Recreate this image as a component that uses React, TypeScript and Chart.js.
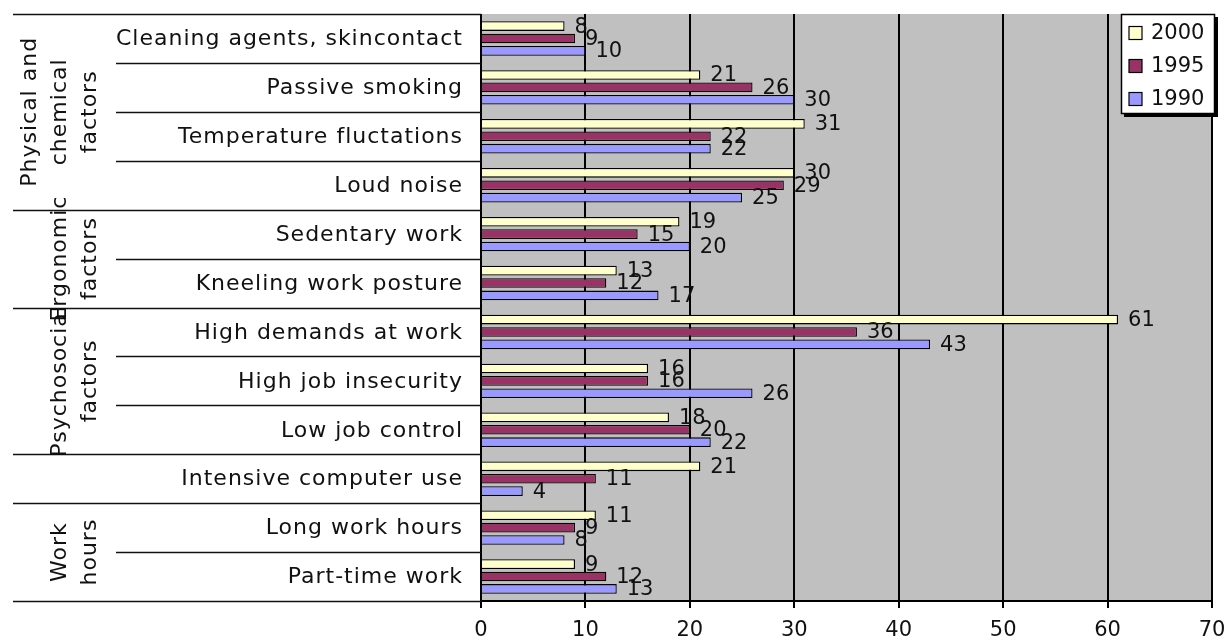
import React, { useEffect, useRef } from 'react';
import { Chart, registerables } from 'chart.js';

Chart.register(...registerables);

// Risk factors at work, share of employees (%)
const categories = [
  'Cleaning agents, skincontact',
  'Passive smoking',
  'Temperature fluctations',
  'Loud noise',
  'Sedentary work',
  'Kneeling work posture',
  'High demands at work',
  'High job insecurity',
  'Low job control',
  'Intensive computer use',
  'Long work hours',
  'Part-time work',
];

const values2000 = [8, 21, 31, 30, 19, 13, 61, 16, 18, 21, 11, 9];
const values1995 = [9, 26, 22, 29, 15, 12, 36, 16, 20, 11, 9, 12];
const values1990 = [10, 30, 22, 25, 20, 17, 43, 26, 22, 4, 8, 13];

const seriesLabels = ['2000', '1995', '1990'];
const seriesColors = ['#ffffcc', '#993366', '#9999ff'];

const xMin = 0;
const xMax = 70;
const xStep = 10;

// Outer category level: text lines and the category rows each group spans
const groupLines = [
  ['Physical and', 'chemical', 'factors'],
  ['Ergonomic', 'factors'],
  ['Psychosocial', 'factors'],
  [],
  ['Work', 'hours'],
];
const groupStarts = [0, 4, 6, 9, 10];
const groupEnds = [4, 6, 9, 10, 12];

const FONT = '"DejaVu Sans", Verdana, sans-serif';

const plotBackground = {
  id: 'plotBackground',
  beforeDraw(chart: any) {
    const { ctx, chartArea: a } = chart;
    ctx.save();
    ctx.fillStyle = '#c0c0c0';
    ctx.fillRect(a.left, a.top, a.right - a.left, a.bottom - a.top);
    ctx.restore();
  },
};

const categoryPanel = {
  id: 'categoryPanel',
  afterDraw(chart: any) {
    const { ctx } = chart;
    const y = chart.scales.y;
    const n = categories.length;
    const rowH = (y.bottom - y.top) / n;
    const boundary = (i: number) => y.top + i * rowH;
    const axisX = chart.chartArea.left;
    const outerLeft = 13;
    const innerLeft = 116;

    ctx.save();
    ctx.strokeStyle = '#111';
    ctx.lineWidth = 1.6;
    for (let i = 0; i <= n; i++) {
      const isGroupEdge = i === n || groupStarts.includes(i);
      const by = Math.round(boundary(i)) + 0.5;
      ctx.beginPath();
      ctx.moveTo(isGroupEdge ? outerLeft : innerLeft, by);
      ctx.lineTo(axisX, by);
      ctx.stroke();
    }

    ctx.fillStyle = '#111';
    ctx.font = `22px ${FONT}`;
    (ctx as any).letterSpacing = '1px';
    ctx.textAlign = 'right';
    ctx.textBaseline = 'middle';
    categories.forEach((label, i) => {
      ctx.fillText(label, axisX - 18, y.getPixelForValue(i) + 1);
    });

    ctx.textAlign = 'center';
    groupLines.forEach((lines, g) => {
      const cy = (boundary(groupStarts[g]) + boundary(groupEnds[g])) / 2;
      lines.forEach((line, k) => {
        const cx = 90 - (lines.length - 1 - k) * 30;
        ctx.save();
        ctx.translate(cx, cy);
        ctx.rotate(-Math.PI / 2);
        ctx.fillText(line, 0, 0);
        ctx.restore();
      });
    });
    ctx.restore();
  },
};

const valueLabels = {
  id: 'valueLabels',
  afterDatasetsDraw(chart: any) {
    const { ctx } = chart;
    ctx.save();
    ctx.fillStyle = '#111';
    ctx.font = `21px ${FONT}`;
    ctx.textAlign = 'left';
    ctx.textBaseline = 'middle';
    chart.data.datasets.forEach((ds: any, d: number) => {
      const meta = chart.getDatasetMeta(d);
      meta.data.forEach((bar: any, i: number) => {
        ctx.fillText(String(ds.data[i]), bar.x + 10, bar.y + 1);
      });
    });
    ctx.restore();
  },
};

const boxLegend = {
  id: 'boxLegend',
  afterDraw(chart: any) {
    const { ctx, chartArea: a } = chart;
    const w = 94;
    const h = 100;
    const x = a.right - 91;
    const top = a.top;
    ctx.save();
    ctx.fillStyle = '#000';
    ctx.fillRect(x + 3, top + 3, w, h);
    ctx.fillStyle = '#fff';
    ctx.fillRect(x, top, w, h);
    ctx.strokeStyle = '#000';
    ctx.lineWidth = 1.5;
    ctx.strokeRect(x + 0.5, top + 0.5, w - 1, h - 1);

    ctx.font = `21px ${FONT}`;
    ctx.textAlign = 'left';
    ctx.textBaseline = 'middle';
    chart.data.datasets.forEach((ds: any, d: number) => {
      const cy = top + 19 + d * 33;
      ctx.fillStyle = ds.backgroundColor;
      ctx.fillRect(x + 8, cy - 6.5, 13, 13);
      ctx.lineWidth = 1.2;
      ctx.strokeStyle = '#000';
      ctx.strokeRect(x + 8, cy - 6.5, 13, 13);
      ctx.fillStyle = '#111';
      ctx.fillText(ds.label, x + 30, cy + 1);
    });
    ctx.restore();
  },
};

export default function App() {
  const canvasRef = useRef<HTMLCanvasElement | null>(null);

  useEffect(() => {
    const canvas = canvasRef.current;
    if (!canvas) return;
    const seriesValues = [values2000, values1995, values1990];
    const chart = new Chart(canvas, {
      type: 'bar',
      data: {
        labels: categories,
        datasets: seriesLabels.map((label, d) => ({
          label,
          data: seriesValues[d],
          backgroundColor: seriesColors[d],
          borderColor: '#000',
          borderWidth: 1.3,
          categoryPercentage: 0.76,
          barPercentage: 0.78,
        })),
      },
      options: {
        indexAxis: 'y',
        responsive: false,
        animation: false,
        devicePixelRatio: 1,
        layout: { padding: { left: 481, right: 14, top: 14, bottom: 0 } },
        plugins: {
          legend: { display: false },
          tooltip: { enabled: false },
        },
        scales: {
          y: {
            type: 'category',
            display: false,
            offset: true,
          },
          x: {
            type: 'linear',
            min: xMin,
            max: xMax,
            ticks: {
              stepSize: xStep,
              color: '#111',
              font: { family: FONT, size: 21 },
              padding: 10,
            },
            grid: {
              color: '#000',
              lineWidth: 2,
              tickLength: 7,
              drawTicks: true,
            },
            border: { display: true, color: '#000', width: 2 },
            afterFit: (scale: any) => {
              scale.height = 40;
              scale.paddingLeft = 0;
              scale.paddingRight = 0;
            },
          },
        },
      } as any,
      plugins: [plotBackground, categoryPanel, valueLabels, boxLegend],
    });
    return () => chart.destroy();
  }, []);

  return (
    <div style={{ position: 'fixed', left: 0, top: 0, width: 1226, height: 641, background: '#fff' }}>
      <canvas ref={canvasRef} width={1226} height={641} style={{ display: 'block' }} />
    </div>
  );
}
